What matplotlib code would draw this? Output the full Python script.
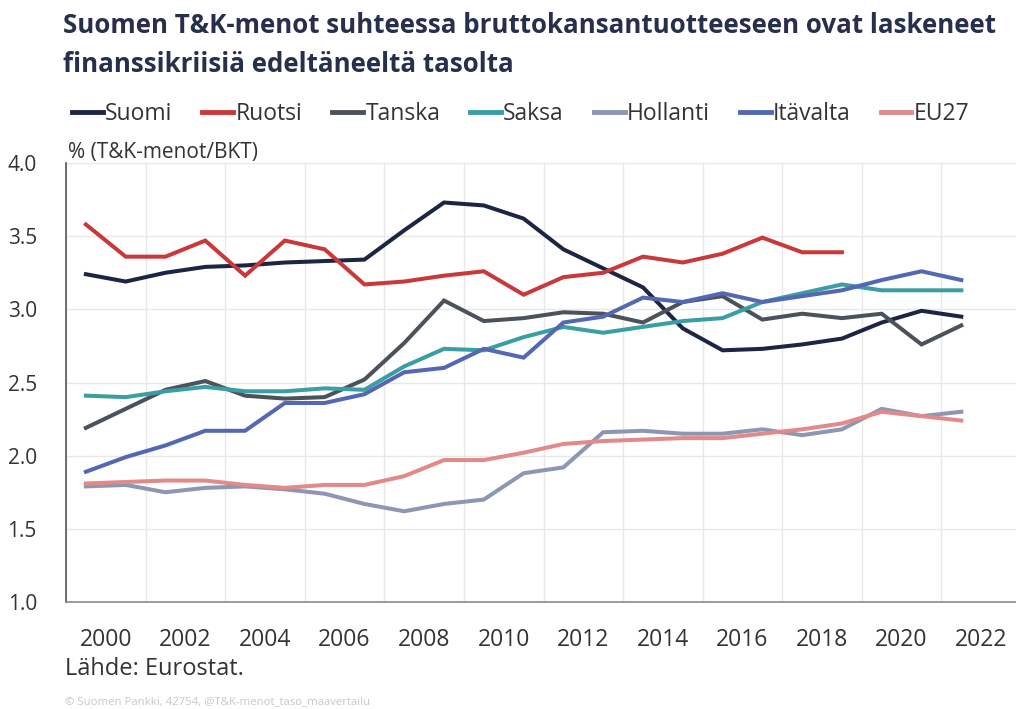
import matplotlib
matplotlib.use("Agg")
import matplotlib.pyplot as plt
import numpy as np

years = list(range(2000, 2023))

suomi = [3.24, 3.19, 3.25, 3.29, 3.30, 3.32, 3.33, 3.34, 3.54, 3.73, 3.71, 3.62,
         3.41, 3.28, 3.15, 2.87, 2.72, 2.73, 2.76, 2.80, 2.91, 2.99, 2.95]
ruotsi = [3.58, 3.36, 3.36, 3.47, 3.23, 3.47, 3.41, 3.17, 3.19, 3.23, 3.26, 3.10,
          3.22, 3.25, 3.36, 3.32, 3.38, 3.49, 3.39, 3.39]
tanska = [2.19, 2.32, 2.45, 2.51, 2.41, 2.39, 2.40, 2.52, 2.77, 3.06, 2.92, 2.94,
          2.98, 2.97, 2.91, 3.05, 3.09, 2.93, 2.97, 2.94, 2.97, 2.76, 2.89]
saksa = [2.41, 2.40, 2.44, 2.47, 2.44, 2.44, 2.46, 2.45, 2.61, 2.73, 2.72, 2.81,
         2.88, 2.84, 2.88, 2.92, 2.94, 3.05, 3.11, 3.17, 3.13, 3.13, 3.13]
hollanti = [1.79, 1.80, 1.75, 1.78, 1.79, 1.77, 1.74, 1.67, 1.62, 1.67, 1.70, 1.88,
            1.92, 2.16, 2.17, 2.15, 2.15, 2.18, 2.14, 2.18, 2.32, 2.27, 2.30]
itavalta = [1.89, 1.99, 2.07, 2.17, 2.17, 2.36, 2.36, 2.42, 2.57, 2.60, 2.73, 2.67,
            2.91, 2.95, 3.08, 3.05, 3.11, 3.05, 3.09, 3.13, 3.20, 3.26, 3.20]
eu27 = [1.81, 1.82, 1.83, 1.83, 1.80, 1.78, 1.80, 1.80, 1.86, 1.97, 1.97, 2.02,
        2.08, 2.10, 2.11, 2.12, 2.12, 2.15, 2.18, 2.22, 2.30, 2.27, 2.24]

series = [
    ("Suomi", suomi, "#1c2644"),
    ("Ruotsi", ruotsi, "#c9393c"),
    ("Tanska", tanska, "#4b525b"),
    ("Saksa", saksa, "#3a9ea4"),
    ("Hollanti", hollanti, "#8d96b3"),
    ("Itävalta", itavalta, "#5467b2"),
    ("EU27", eu27, "#e2898a"),
]

plt.rcParams["font.family"] = ["Open Sans", "DejaVu Sans"]
text_col = "#333333"

fig = plt.figure(figsize=(10.16, 7.09), dpi=100)
ax = fig.add_axes([66 / 1016, 107 / 709, 955 / 1016, 439 / 709])

for name, vals, col in series:
    ax.plot(years[:len(vals)], vals, color=col, lw=2.9, label=name,
            solid_joinstyle="miter")

ax.set_xlim(1999.5, 2023.5)
ax.set_ylim(1.0, 4.0)
ax.set_yticks(np.arange(1.0, 4.01, 0.5))
ax.set_yticklabels([f"{v:.1f}" for v in np.arange(1.0, 4.01, 0.5)])
ax.set_xticks(np.arange(2000.5, 2023, 2))
ax.set_xticklabels([str(y) for y in range(2000, 2023, 2)])
ax.set_xticks(np.arange(1999.5, 2023, 2), minor=True)
ax.tick_params(axis="both", which="both", length=0, colors=text_col)
ax.tick_params(axis="y", labelsize=15, pad=21)
ax.tick_params(axis="x", labelsize=16.5, pad=19)
ax.grid(axis="y", color="#e8e8e8", lw=1)
ax.grid(axis="x", which="minor", color="#e8e8e8", lw=1)
ax.set_axisbelow(True)
for s in ["top", "right"]:
    ax.spines[s].set_visible(False)
ax.spines["left"].set_color("#555555")
ax.spines["bottom"].set_color("#8a8a8a")
ax.spines["left"].set_linewidth(1.2)
ax.spines["bottom"].set_linewidth(1.2)

fig.text(63 / 1016, 1 - 33 / 709,
         "Suomen T&K-menot suhteessa bruttokansantuotteeseen ovat laskeneet",
         fontsize=18.6, fontweight="bold", color="#26304c", va="baseline",
         ha="left")
fig.text(63 / 1016, 1 - 72 / 709, "finanssikriisiä edeltäneeltä tasolta",
         fontsize=18.6, fontweight="bold", color="#26304c", va="baseline",
         ha="left")

leg = fig.legend(loc="lower left", bbox_to_anchor=(72 / 1016, 1 - 126 / 709),
                 ncol=7, frameon=False, fontsize=16.5, handlelength=1.35,
                 handletextpad=0.1, columnspacing=1.3, borderaxespad=0,
                 borderpad=0)
for t in leg.get_texts():
    t.set_color(text_col)
for h in leg.legend_handles:
    h.set_linewidth(3.5)

fig.text(68 / 1016, 1 - 158 / 709, "% (T&K-menot/BKT)", fontsize=15,
         color=text_col, va="baseline", ha="left")
fig.text(65 / 1016, 1 - 675 / 709, "Lähde: Eurostat.", fontsize=17,
         color=text_col, va="baseline", ha="left")
fig.text(65 / 1016, 1 - 704 / 709,
         "© Suomen Pankki, 42754, @T&K-menot_taso_maavertailu", fontsize=8.2,
         color="#c8c8c8", va="baseline", ha="left")

fig.savefig("out.png", dpi=100)
